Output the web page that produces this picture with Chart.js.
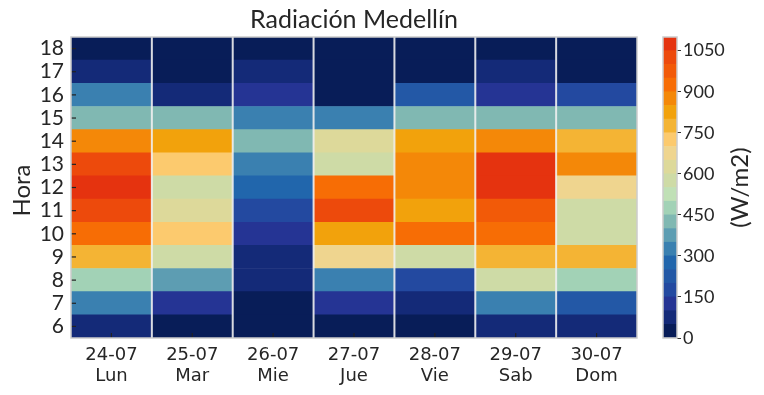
<!DOCTYPE html>
<html>
<head>
<meta charset="utf-8">
<script src="https://cdn.jsdelivr.net/npm/chart.js@4.4.0/dist/chart.umd.min.js"></script>
<style>
    html, body { margin: 0; padding: 0; background: #fff; }
    #wrap { position: relative; width: 764px; height: 395px; }
    canvas { position: absolute; top: 0; }
</style>
</head>
<body>
<div id="wrap">
    <canvas id="heat" width="764" height="395" style="left:0"></canvas>
    <canvas id="cbar" width="124" height="395" style="left:640px"></canvas>
</div>
<script>
// Days (x categories) and hours (y rows)
const days = [['24-07', 'Lun'], ['25-07', 'Mar'], ['26-07', 'Mie'], ['27-07', 'Jue'], ['28-07', 'Vie'], ['29-07', 'Sab'], ['30-07', 'Dom']];
const hours = [6, 7, 8, 9, 10, 11, 12, 13, 14, 15, 16, 17, 18];

// Radiation (W/m2) per day, hours 6..18
const lun = [75, 325, 475, 775, 925, 1025, 1075, 1025, 875, 425, 325, 75, 25];
const mar = [25, 125, 375, 575, 725, 625, 575, 725, 825, 425, 75, 25, 25];
const mie = [25, 25, 75, 75, 125, 175, 275, 325, 425, 325, 125, 75, 25];
const jue = [25, 125, 325, 675, 825, 1025, 925, 575, 625, 325, 25, 25, 25];
const vie = [25, 75, 175, 575, 925, 825, 875, 875, 825, 425, 225, 25, 25];
const sab = [75, 325, 575, 775, 925, 975, 1075, 1075, 875, 425, 125, 75, 25];
const dom = [75, 225, 475, 775, 575, 575, 675, 875, 775, 425, 175, 25, 25];
const series = [lun, mar, mie, jue, vie, sab, dom];

// Colour levels (step 50) and colorbar ticks
const levels = [0, 50, 100, 150, 200, 250, 300, 350, 400, 450, 500, 550, 600, 650, 700, 750, 800, 850, 900, 950, 1000, 1050, 1100];
const levelColors = [
    '#081d58', '#142a78', '#253494', '#2349a0', '#2358a6', '#2166ac', '#3a80b0', '#5d9db2',
    '#80b8b2', '#a2d2b6', '#c0e0b6', '#cedba6', '#ddd99a', '#efd58f', '#fcca6e', '#f4b434',
    '#f2a20c', '#f48808', '#f76d05', '#f25a08', '#ed4a0c', '#e5330f'
];
const cbarTicks = [0, 150, 300, 450, 600, 750, 900, 1050];

const textColor = '#262626';
const sansFont = 'Lato';
const tickFont = 'DejaVu Sans';

function colorFor(v) {
    let k = 0;
    while (k < levelColors.length - 1 && v >= levels[k + 1]) k++;
    return levelColors[k];
}

// Column separators, border around the plot area, inward tick marks, rotated axis label
const frame = {
    id: 'frame',
    afterDraw(chart, args, opts) {
        const { ctx, chartArea: a } = chart;
        ctx.save();
        if (opts.ticks) {
            const xs = chart.scales.x;
            ctx.strokeStyle = 'rgba(240,240,240,0.9)';
            ctx.lineWidth = 2;
            for (let j = 1; j < days.length; j++) {
                const x = (xs.getPixelForValue(j - 1) + xs.getPixelForValue(j)) / 2;
                ctx.beginPath();
                ctx.moveTo(x, a.top);
                ctx.lineTo(x, a.bottom);
                ctx.stroke();
            }
            ctx.strokeStyle = '#222';
            ctx.lineWidth = 1.2;
            const ys = chart.scales.y;
            hours.forEach(h => {
                const y = ys.getPixelForValue(h);
                ctx.beginPath();
                ctx.moveTo(a.left, y);
                ctx.lineTo(a.left + 5, y);
                ctx.stroke();
            });
            days.forEach((d, j) => {
                const x = xs.getPixelForValue(j);
                ctx.beginPath();
                ctx.moveTo(x, a.bottom);
                ctx.lineTo(x, a.bottom - 5);
                ctx.stroke();
            });
        }
        ctx.strokeStyle = '#cccccc';
        ctx.lineWidth = 1.5;
        ctx.strokeRect(a.left, a.top, a.right - a.left, a.bottom - a.top);
        if (opts.label) {
            ctx.fillStyle = textColor;
            ctx.font = '24px ' + sansFont;
            ctx.textAlign = 'center';
            ctx.textBaseline = 'middle';
            ctx.translate(opts.labelX, (a.top + a.bottom) / 2 + (opts.labelDy || 0));
            ctx.rotate(-Math.PI / 2);
            ctx.fillText(opts.label, 0, 0);
        }
        ctx.restore();
    }
};

// Heatmap: one floating-bar dataset per hour
const heatDatasets = hours.map((h, i) => ({
    data: days.map(() => [h - 0.5, h + 0.5]),
    backgroundColor: series.map(s => colorFor(s[i])),
    borderWidth: 0,
    grouped: false,
    barPercentage: 1,
    categoryPercentage: 1
}));

new Chart(document.getElementById('heat'), {
    type: 'bar',
    data: { labels: days, datasets: heatDatasets },
    options: {
        responsive: false,
        animation: false,
        layout: { padding: { left: 0, right: 127, top: 0, bottom: 10 } },
        plugins: {
            legend: { display: false },
            tooltip: { enabled: false },
            title: {
                display: true,
                text: 'Radiación Medellín',
                fullSize: false,
                color: textColor,
                font: { family: sansFont, size: 25, weight: 'normal' },
                padding: { top: 5, bottom: 2 }
            },
            frame: { ticks: true, label: 'Hora', labelX: 22, labelDy: 3 }
        },
        scales: {
            x: {
                afterFit: axis => { axis.height = 47; },
                grid: { display: false, drawTicks: false },
                border: { display: false },
                ticks: { color: textColor, font: { family: tickFont, size: 18, lineHeight: 1.17 }, padding: 7 }
            },
            y: {
                min: 5.5,
                max: 18.5,
                afterBuildTicks: axis => { axis.ticks = hours.map(h => ({ value: h })); },
                afterFit: axis => { axis.width = 71; },
                grid: { display: false, drawTicks: false },
                border: { display: false },
                ticks: { color: textColor, font: { family: sansFont, size: 21 }, padding: 7, autoSkip: false }
            }
        }
    },
    plugins: [frame]
});

// Colorbar: one floating bar per colour level
const cbarDatasets = levelColors.map((c, k) => ({
    data: [[levels[k], levels[k + 1]]],
    backgroundColor: c,
    borderWidth: 0,
    grouped: false,
    barPercentage: 1,
    categoryPercentage: 1
}));

new Chart(document.getElementById('cbar'), {
    type: 'bar',
    data: { labels: [''], datasets: cbarDatasets },
    options: {
        responsive: false,
        animation: false,
        layout: { padding: { left: 23, right: 0, top: 37, bottom: 57 } },
        plugins: {
            legend: { display: false },
            tooltip: { enabled: false },
            frame: { ticks: false, label: '(W/m2)', labelX: 100 }
        },
        scales: {
            x: { display: false },
            y: {
                position: 'right',
                min: 0,
                max: 1100,
                afterBuildTicks: axis => { axis.ticks = cbarTicks.map(v => ({ value: v })); },
                afterFit: axis => { axis.width = 87; },
                grid: { drawOnChartArea: false, drawTicks: true, tickLength: 4, tickColor: '#333', tickWidth: 1 },
                border: { display: false },
                ticks: {
                    color: textColor,
                    font: { family: sansFont, size: 18 },
                    padding: 2,
                    autoSkip: false,
                    callback: v => String(v)
                }
            }
        }
    },
    plugins: [frame]
});
</script>
</body>
</html>
